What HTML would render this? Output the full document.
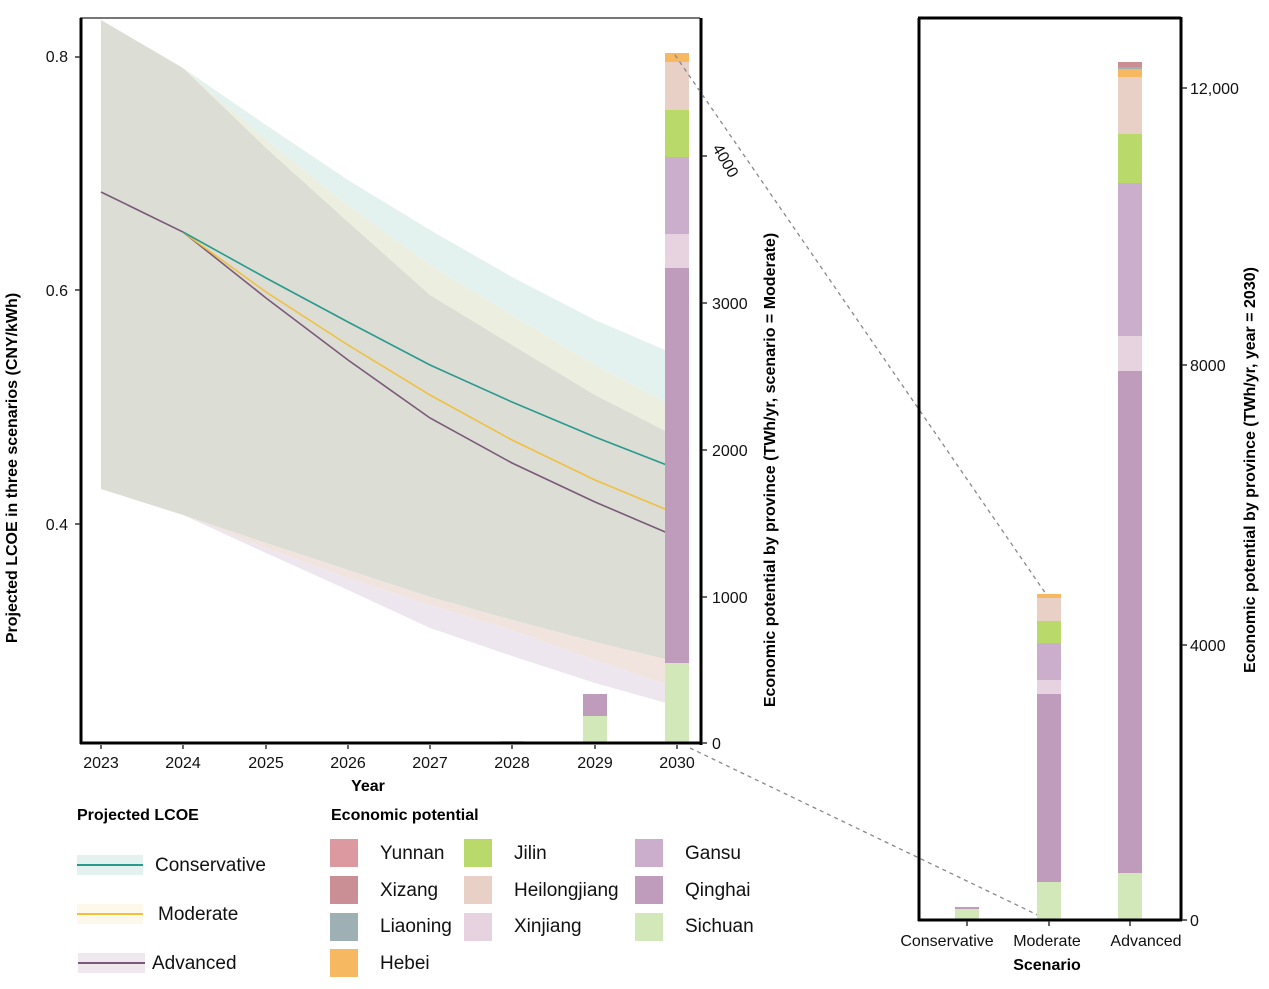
<!DOCTYPE html>
<html><head><meta charset="utf-8"><style>
html,body{margin:0;padding:0;background:#fff;}
svg{display:block;font-family:"Liberation Sans",Arial,sans-serif;}
</style></head><body>
<svg width="1269" height="989" viewBox="0 0 1269 989">
<!-- bands -->
<polygon fill="#e3f1ef" points="101,20 183,68 266,125 348,180 430,230 512,277 595,320 677,355 677,408 595,365 512,315 430,265 348,205 266,140 183,68"/>
<polygon fill="#ecefe0" points="183,68 266,140 348,205 430,265 512,315 595,365 677,408 677,437 595,395 512,345 430,295 348,222 266,148"/>
<polygon fill="#dcddd5" points="101,20 183,68 266,148 348,222 430,295 512,345 595,395 677,437 677,662 595,642 512,620 430,597 348,570 266,543 183,515 101,489"/>
<polygon fill="#f1e4de" points="183,515 266,543 348,570 430,597 512,620 595,642 677,662 677,688 595,660 512,630 430,605 348,578 266,548"/>
<polygon fill="#ede6ef" points="183,515 266,548 348,578 430,605 512,630 595,660 677,688 677,706 595,683 512,656 430,628 348,590 266,553"/>
<!-- lines -->
<polyline fill="none" stroke="#7a5a78" stroke-width="1.6" points="101,192 183,232 266,298 348,360 430,418 512,463 595,502 677,537"/>
<polyline fill="none" stroke="#f0c040" stroke-width="1.6" points="183,232 266,292 348,345 430,395 512,440 595,480 677,514"/>
<polyline fill="none" stroke="#2a9a8e" stroke-width="1.6" points="183,232 266,278 348,322 430,365 512,402 595,437 677,469"/>
<!-- 2030 bar -->
<rect x="665" y="663" width="24" height="80" fill="#d2e8b8"/>
<rect x="665" y="268" width="24" height="395" fill="#c09cbc"/>
<rect x="665" y="234" width="24" height="34" fill="#e6d3df"/>
<rect x="665" y="157" width="24" height="77" fill="#cbaecb"/>
<rect x="665" y="110" width="24" height="47" fill="#b9da6a"/>
<rect x="665" y="62" width="24" height="48" fill="#e9d0c7"/>
<rect x="665" y="53" width="24" height="9" fill="#f6b860"/>
<!-- 2029 -->
<rect x="583" y="716" width="24" height="27" fill="#d2e8b8"/>
<rect x="583" y="694" width="24" height="22" fill="#c09cbc"/>
<rect x="500" y="741" width="24" height="2" fill="#d2e8b8"/>
<!-- axes left -->
<line x1="80" y1="18" x2="700" y2="18" stroke="#777" stroke-width="2"/>
<line x1="81" y1="18" x2="81" y2="744" stroke="#000" stroke-width="3"/>
<line x1="80" y1="743" x2="702" y2="743" stroke="#000" stroke-width="3"/>
<line x1="701" y1="18" x2="701" y2="745" stroke="#000" stroke-width="3"/>
<g stroke="#333" stroke-width="1.5">
<line x1="75" y1="57" x2="80" y2="57"/><line x1="75" y1="290" x2="80" y2="290"/><line x1="75" y1="524" x2="80" y2="524"/>
<line x1="101" y1="745" x2="101" y2="749"/><line x1="183" y1="745" x2="183" y2="749"/><line x1="266" y1="745" x2="266" y2="749"/><line x1="348" y1="745" x2="348" y2="749"/><line x1="430" y1="745" x2="430" y2="749"/><line x1="512" y1="745" x2="512" y2="749"/><line x1="595" y1="745" x2="595" y2="749"/><line x1="677" y1="745" x2="677" y2="749"/>
<line x1="702" y1="156" x2="707" y2="156"/><line x1="702" y1="303" x2="707" y2="303"/><line x1="702" y1="450" x2="707" y2="450"/><line x1="702" y1="597" x2="707" y2="597"/><line x1="702" y1="743" x2="707" y2="743"/>
</g>
<g font-size="16" fill="#111">
<text x="68" y="62" text-anchor="end">0.8</text>
<text x="68" y="296" text-anchor="end">0.6</text>
<text x="68" y="530" text-anchor="end">0.4</text>
<g text-anchor="middle">
<text x="101" y="768">2023</text><text x="183" y="768">2024</text><text x="266" y="768">2025</text><text x="348" y="768">2026</text><text x="430" y="768">2027</text><text x="512" y="768">2028</text><text x="595" y="768">2029</text><text x="677" y="768">2030</text>
</g>
<text x="712" y="749">0</text><text x="712" y="603">1000</text><text x="712" y="456">2000</text><text x="712" y="309">3000</text>
<text x="712" y="148" transform="rotate(60 712 148)">4000</text>
</g>
<text x="368" y="791" font-size="16" font-weight="bold" text-anchor="middle">Year</text>
<text transform="translate(17 468) rotate(-90)" font-size="16" font-weight="bold" text-anchor="middle">Projected LCOE in three scenarios (CNY/kWh)</text>
<text transform="translate(775 470) rotate(-90)" font-size="16" font-weight="bold" text-anchor="middle">Economic potential by province (TWh/yr, scenario = Moderate)</text>
<!-- dashed connectors -->
<line x1="675" y1="55" x2="1046" y2="594" stroke="#888" stroke-width="1.3" stroke-dasharray="4,4"/>
<line x1="690" y1="748" x2="1046" y2="919" stroke="#888" stroke-width="1.3" stroke-dasharray="4,4"/>
<!-- right chart -->
<rect x="955" y="909" width="24" height="11" fill="#d2e8b8"/>
<rect x="955" y="907" width="24" height="2" fill="#c09cbc"/>
<rect x="1037" y="882" width="24" height="38" fill="#d2e8b8"/>
<rect x="1037" y="694" width="24" height="188" fill="#c09cbc"/>
<rect x="1037" y="680" width="24" height="14" fill="#e6d3df"/>
<rect x="1037" y="643" width="24" height="37" fill="#cbaecb"/>
<rect x="1037" y="621" width="24" height="22" fill="#b9da6a"/>
<rect x="1037" y="598" width="24" height="23" fill="#e9d0c7"/>
<rect x="1037" y="594" width="24" height="4" fill="#f6b860"/>
<rect x="1118" y="873" width="24" height="47" fill="#d2e8b8"/>
<rect x="1118" y="371" width="24" height="502" fill="#c09cbc"/>
<rect x="1118" y="336" width="24" height="35" fill="#e6d3df"/>
<rect x="1118" y="183" width="24" height="153" fill="#cbaecb"/>
<rect x="1118" y="134" width="24" height="49" fill="#b9da6a"/>
<rect x="1118" y="77" width="24" height="57" fill="#e9d0c7"/>
<rect x="1118" y="69" width="24" height="8" fill="#f6b860"/>
<rect x="1118" y="67" width="24" height="2" fill="#9fb0b4"/>
<rect x="1118" y="62" width="24" height="5" fill="#c98f95"/>
<g stroke="#000" stroke-width="3" fill="none">
<line x1="918" y1="18" x2="1181" y2="18"/>
<line x1="919" y1="18" x2="919" y2="921"/>
<line x1="918" y1="920" x2="1182" y2="920"/>
<line x1="1181" y1="17" x2="1181" y2="921"/>
</g>
<g stroke="#333" stroke-width="1.5">
<line x1="1182" y1="88" x2="1187" y2="88"/><line x1="1182" y1="365" x2="1187" y2="365"/><line x1="1182" y1="645" x2="1187" y2="645"/><line x1="1182" y1="920" x2="1187" y2="920"/>
<line x1="967" y1="921" x2="967" y2="926"/><line x1="1049" y1="921" x2="1049" y2="926"/><line x1="1130" y1="921" x2="1130" y2="926"/>
</g>
<g font-size="16" fill="#111">
<text x="1190" y="94">12,000</text><text x="1190" y="371">8000</text><text x="1190" y="651">4000</text><text x="1190" y="926">0</text>
<g text-anchor="middle"><text x="947" y="946">Conservative</text><text x="1047" y="946">Moderate</text><text x="1146" y="946">Advanced</text></g>
</g>
<text x="1047" y="970" font-size="16" font-weight="bold" text-anchor="middle">Scenario</text>
<text transform="translate(1255 470) rotate(-90)" font-size="16" font-weight="bold" text-anchor="middle">Economic potential by province (TWh/yr, year = 2030)</text>
<!-- legend LCOE -->
<text x="77" y="820" font-size="16" font-weight="bold">Projected LCOE</text>
<rect x="77" y="855" width="66" height="20" fill="#e3f1ef"/><line x1="77" y1="865" x2="143" y2="865" stroke="#2a9a8e" stroke-width="2"/>
<rect x="77" y="904" width="66" height="20" fill="#fcf8ea"/><line x1="77" y1="914" x2="143" y2="914" stroke="#f0c040" stroke-width="2"/>
<rect x="78" y="953" width="67" height="20" fill="#efe8ef"/><line x1="78" y1="963" x2="145" y2="963" stroke="#7a5a78" stroke-width="2"/>
<g font-size="19" fill="#111">
<text x="155" y="871">Conservative</text><text x="158" y="920">Moderate</text><text x="152" y="969">Advanced</text>
</g>
<!-- legend economic -->
<text x="331" y="820" font-size="16" font-weight="bold">Economic potential</text>
<rect x="330" y="839" width="28" height="28" fill="#dc9aa0"/>
<rect x="330" y="876" width="28" height="28" fill="#c98f95"/>
<rect x="330" y="913" width="28" height="28" fill="#9fb0b4"/>
<rect x="330" y="949" width="28" height="28" fill="#f6b860"/>
<rect x="464" y="839" width="28" height="28" fill="#b9da6a"/>
<rect x="464" y="876" width="28" height="28" fill="#e9d0c7"/>
<rect x="464" y="913" width="28" height="28" fill="#e6d3df"/>
<rect x="635" y="839" width="28" height="28" fill="#cbaecb"/>
<rect x="635" y="876" width="28" height="28" fill="#c09cbc"/>
<rect x="635" y="913" width="28" height="28" fill="#d2e8b8"/>
<g font-size="19" fill="#111">
<text x="380" y="859">Yunnan</text><text x="380" y="896">Xizang</text><text x="380" y="932">Liaoning</text><text x="380" y="969">Hebei</text>
<text x="514" y="859">Jilin</text><text x="514" y="896">Heilongjiang</text><text x="514" y="932">Xinjiang</text>
<text x="685" y="859">Gansu</text><text x="685" y="896">Qinghai</text><text x="685" y="932">Sichuan</text>
</g>
</svg>
</body></html>
